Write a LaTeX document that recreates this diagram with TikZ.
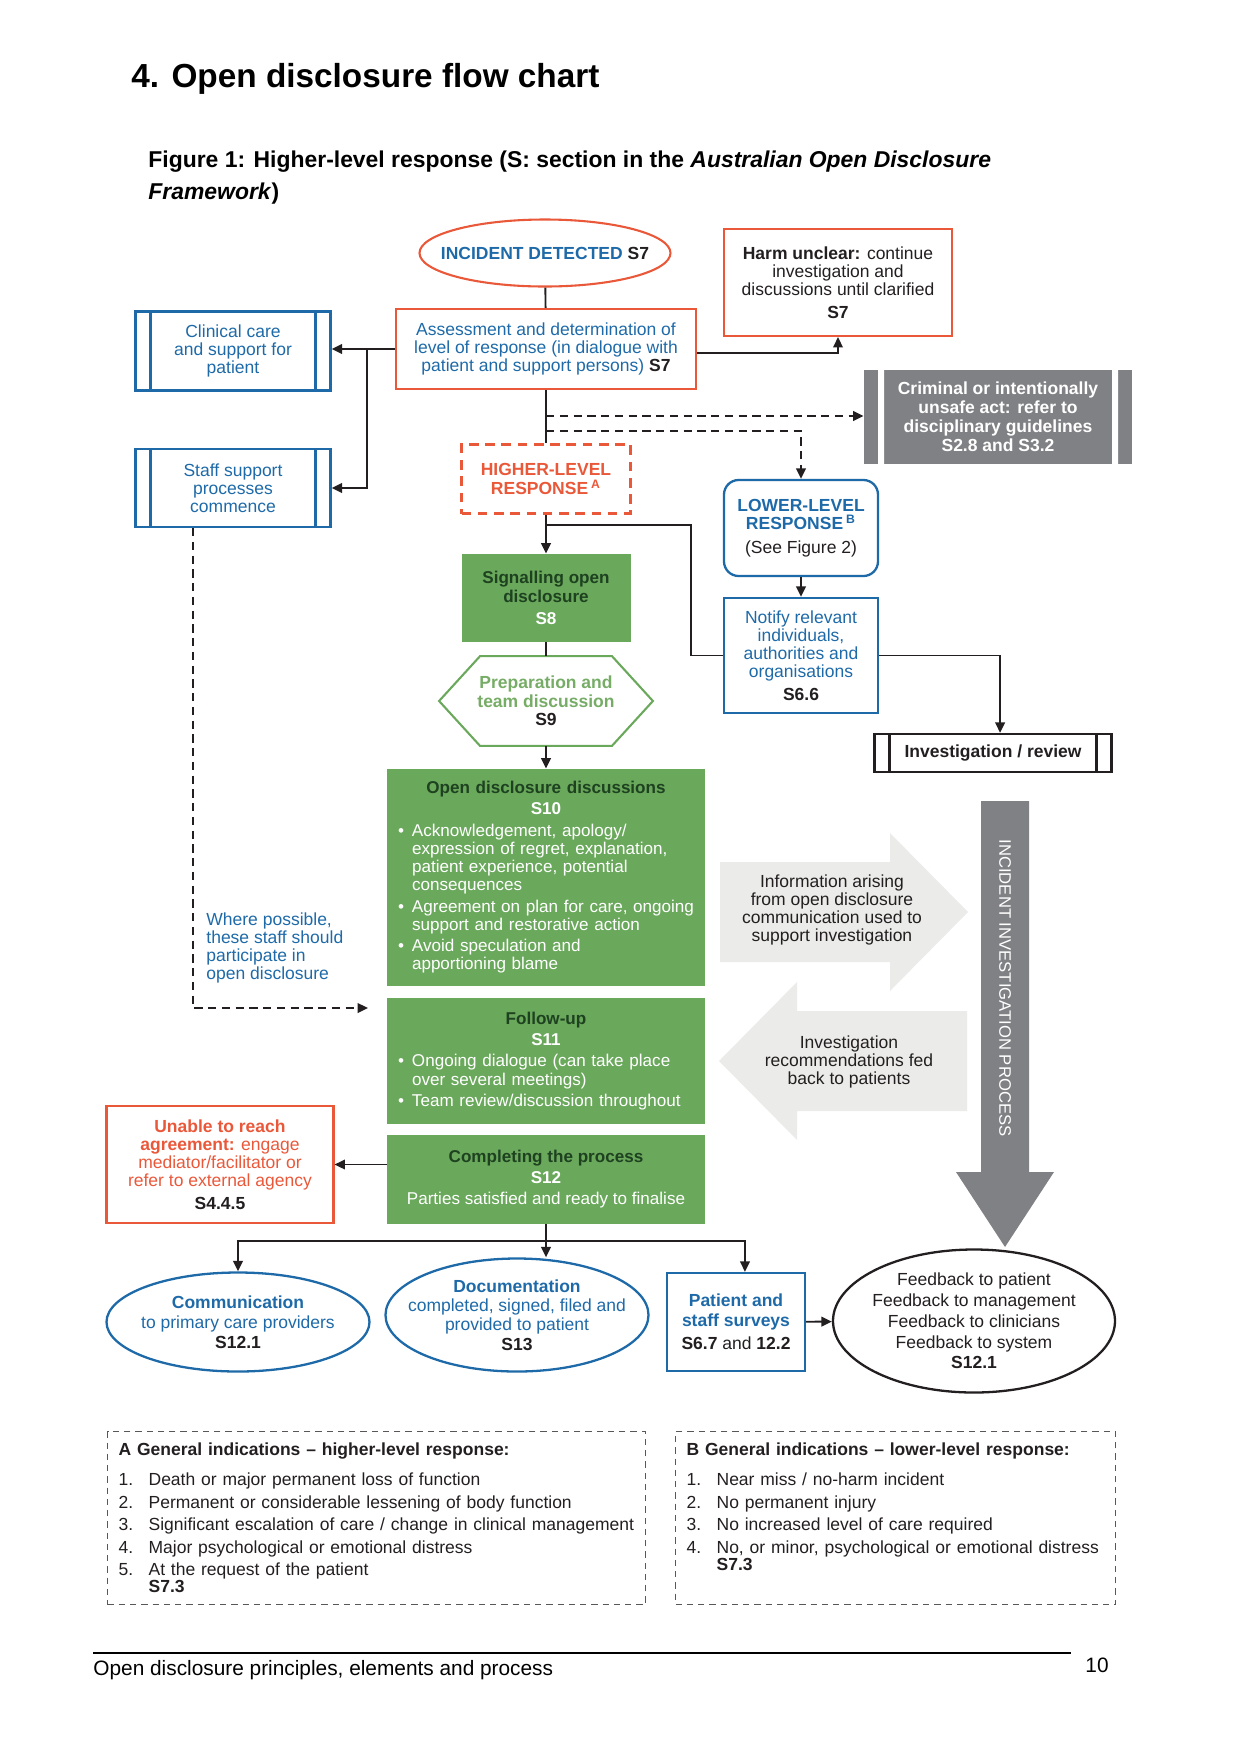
\documentclass[tikz,border=0pt]{standalone}
\usepackage{fontspec}
\setmainfont{Liberation Sans}
\usetikzlibrary{arrows.meta, shapes.geometric, positioning, calc}
\definecolor{OdBlue}{RGB}{30,106,168}
\definecolor{OdOrange}{RGB}{234,88,58}
\definecolor{OdGreen}{RGB}{106,168,92}
\definecolor{OdGreenDark}{RGB}{30,66,32}
\definecolor{OdGreenText}{RGB}{118,172,102}
\definecolor{OdGrey}{RGB}{128,129,132}
\definecolor{OdGreyLight}{RGB}{235,235,233}
\definecolor{OdInk}{RGB}{35,31,32}
\newlength{\pxl}
\setlength{\pxl}{0.48pt}
\newcommand{\odbul}[1]{\par\vspace{1.6pt}\noindent\hangindent=14\pxl\hangafter=1\makebox[14\pxl][l]{\textbullet}#1\par}
\newcommand{\oditem}[2]{\par\noindent\hangindent=30\pxl\hangafter=1\makebox[30\pxl][l]{#1}#2}
\newcommand{\odsec}[1]{\par\vspace{-2.6pt}\noindent\hspace*{30\pxl}\textbf{#1}}

\begin{document}
\begin{tikzpicture}[x=0.48pt,y=-0.48pt,
        nd/.style={align=center,inner sep=0pt,font=\fontsize{8.4}{8.7}\selectfont,text=OdInk},
        blbox/.style={nd,draw=OdBlue,line width=1.1pt,text=OdBlue},
        orbox/.style={nd,draw=OdOrange,line width=1pt},
        gnbox/.style={nd,fill=OdGreen,text=white,font=\fontsize{8.2}{8.7}\selectfont},
        oval/.style={ellipse,inner xsep=-30pt,inner ysep=-12pt},
        proc/.style={nd,draw=#1,line width=1.1pt,
                     path picture={\draw[#1,line width=1.1pt]
                       ([xshift=15*\pxl]path picture bounding box.north west) -- ([xshift=15*\pxl]path picture bounding box.south west)
                       ([xshift=-15*\pxl]path picture bounding box.north east) -- ([xshift=-15*\pxl]path picture bounding box.south east);}},
        proc/.default=OdBlue,
        notebox/.style={nd,draw=OdInk!75,line width=0.6pt,dash pattern=on 3pt off 2.4pt,
                        anchor=north west,align=left,inner xsep=11*\pxl,minimum height=173*\pxl,
                        font=\fontsize{8.4}{10.8}\selectfont},
        arr/.style={-{Triangle[length=5pt,width=4.6pt]},line width=0.9pt,OdInk},
        ln/.style={line width=0.9pt,OdInk},
        darr/.style={arr,dash pattern=on 4pt off 2.6pt}
      ]
        \useasboundingbox (0,0) rectangle (1241,1754);
        \node[anchor=base west,inner sep=0pt,font=\fontsize{16}{19}\selectfont\bfseries] (ttl) at (131,87) {4. Open disclosure flow chart};
        \node[anchor=north west,align=left,inner sep=0pt,font=\fontsize{11}{15.4}\selectfont\bfseries] (cap) at (148,150)
          {Figure 1: Higher-level response (S: section in the \textit{Australian Open Disclosure}\\\textit{Framework})};
        % Assessment
        \node[orbox,oval,minimum width=251*\pxl,minimum height=67*\pxl,font=\fontsize{8.4}{8.7}\selectfont\bfseries] (inc) at (545,253)
          {\textcolor{OdBlue}{INCIDENT DETECTED} S7};
        \node[orbox,minimum width=300*\pxl,minimum height=80*\pxl,text=OdBlue] (assess) at (546,349)
          {Assessment and determination of\\level of response (in dialogue with\\patient and support persons) \textcolor{OdInk}{\textbf{S7}}};
        \node[orbox,minimum width=228*\pxl,minimum height=107*\pxl] (harm) at (838,282.5)
          {\textbf{Harm unclear:} continue\\investigation and\\discussions until clarified\\[2pt]\textbf{S7}};
        \node[proc,text=OdBlue,minimum width=195*\pxl,minimum height=79*\pxl] (clin) at (233,351) {Clinical care\\and support for\\patient};
        \node[proc,text=OdBlue,minimum width=195*\pxl,minimum height=78*\pxl] (staff) at (233,488) {Staff support\\processes\\commence};
        \node[nd,fill=OdGrey,text=white,font=\fontsize{8.4}{9.1}\selectfont\bfseries,minimum width=268*\pxl,minimum height=94*\pxl,
              path picture={\fill[white]
                ([xshift=14*\pxl]path picture bounding box.south west) rectangle ([xshift=20*\pxl]path picture bounding box.north west)
                ([xshift=-20*\pxl]path picture bounding box.south east) rectangle ([xshift=-14*\pxl]path picture bounding box.north east);}] (crim) at (998,417)
          {Criminal or intentionally\\unsafe act: refer to\\disciplinary guidelines\\S2.8 and S3.2};
        \node[orbox,line width=1.1pt,dash pattern=on 4.6pt off 3.2pt,minimum width=169*\pxl,minimum height=69*\pxl,
              text=OdOrange,font=\fontsize{8.4}{8.7}\selectfont\bfseries] (higher) at (546,479) {HIGHER-LEVEL\\RESPONSE\,\textsuperscript{A}};
        \node[blbox,rounded corners=7pt,minimum width=154*\pxl,minimum height=96*\pxl] (lower) at (801,528)
          {\textbf{LOWER-LEVEL}\\\textbf{RESPONSE\,\textsuperscript{B}}\\[3pt]\textcolor{OdInk}{(See Figure 2)}};
        % Higher-level path
        \node[gnbox,minimum width=169*\pxl,minimum height=88*\pxl] (sig) at (546,598)
          {\textcolor{OdGreenDark}{\textbf{Signalling open}}\\\textcolor{OdGreenDark}{\textbf{disclosure}}\\[2pt]\textbf{S8}};
        \node[blbox,minimum width=154*\pxl,minimum height=115*\pxl] (notify) at (801,655.5)
          {Notify relevant\\individuals,\\authorities and\\organisations\\[2pt]\textcolor{OdInk}{\textbf{S6.6}}};
        \node[nd,minimum width=213*\pxl,minimum height=89*\pxl,text=OdGreenText,font=\fontsize{8.4}{8.9}\selectfont\bfseries] (prep) at (546,701)
          {Preparation and\\team discussion\\\textcolor{OdInk}{S9}};
        \draw[OdGreen,line width=1pt] (prep.west) -- ([xshift=41*\pxl]prep.north west) -- ([xshift=-41*\pxl]prep.north east)
          -- (prep.east) -- ([xshift=-41*\pxl]prep.south east) -- ([xshift=41*\pxl]prep.south west) -- cycle;
        \node[proc=OdInk,minimum width=237*\pxl,minimum height=38*\pxl,font=\fontsize{8.4}{8.7}\selectfont\bfseries] (invrev) at (993,753)
          {Investigation / review};
        \node[gnbox,minimum width=318*\pxl,minimum height=217*\pxl,text width=296*\pxl,align=left] (odd) at (546,877.5)
          {{\centering\textcolor{OdGreenDark}{\textbf{Open disclosure discussions}}\\[1.4pt]\textbf{S10}\par}
           \odbul{\mbox{Acknowledgement, apology/}\newline \mbox{expression of regret, explanation,}\newline \mbox{patient experience, potential}\newline consequences}
           \odbul{\mbox{Agreement on plan for care, ongoing}\newline \mbox{support and restorative action}}
           \odbul{\mbox{Avoid speculation and}\newline \mbox{apportioning blame}}};
        \node[gnbox,minimum width=318*\pxl,minimum height=126*\pxl,text width=296*\pxl,align=left] (follow) at (546,1061)
          {{\centering\textcolor{OdGreenDark}{\textbf{Follow-up}}\\[1.4pt]\textbf{S11}\par}
           \odbul{\mbox{Ongoing dialogue (can take place}\newline \mbox{over several meetings)}}
           \odbul{\mbox{Team review/discussion throughout}}};
        \node[gnbox,minimum width=318*\pxl,minimum height=89*\pxl] (complete) at (546,1179.5)
          {\textcolor{OdGreenDark}{\textbf{Completing the process}}\\[1.4pt]\textbf{S12}\\[1.4pt]Parties satisfied and ready to finalise};
        \node[orbox,minimum width=227*\pxl,minimum height=117*\pxl,text=OdOrange] (unable) at (220,1164.5)
          {\textbf{Unable to reach}\\\textbf{agreement:} engage\\mediator/facilitator or\\refer to external agency\\[2pt]\textcolor{OdInk}{\textbf{S4.4.5}}};
        \node[nd,text=OdBlue,align=left,anchor=west] (where) at (206,948)
          {Where possible,\\these staff should\\participate in\\open disclosure};
        % Investigation process
        \fill[OdGreyLight] (720,862) -- (890,862) -- (890,833) -- (968,912) -- (890,991) -- (890,962) -- (720,962) -- cycle;
        \node[nd] (info) at (832,910) {Information arising\\from open disclosure\\communication used to\\support investigation};
        \fill[OdGreyLight] (967,1011) -- (797,1011) -- (797,982) -- (719,1061) -- (797,1140) -- (797,1111) -- (967,1111) -- cycle;
        \node[nd] (recs) at (849,1062) {Investigation\\recommendations fed\\back to patients};
        \fill[OdGrey] (981,801) -- (1029,801) -- (1029,1172) -- (1054,1172) -- (1005,1247) -- (956,1172) -- (981,1172) -- cycle;
        \node[nd,rotate=-90,text=white,font=\fontsize{8}{9}\selectfont] (invproc) at (1005,988) {INCIDENT INVESTIGATION PROCESS};
        % Completion
        \node[blbox,oval,minimum width=263*\pxl,minimum height=99*\pxl,font=\fontsize{8.4}{9.6}\selectfont] (comm) at (238,1322)
          {\textbf{Communication}\\to primary care providers\\\textcolor{OdInk}{\textbf{S12.1}}};
        \node[blbox,oval,minimum width=263*\pxl,minimum height=113*\pxl,font=\fontsize{8.4}{9.2}\selectfont] (docu) at (517,1315)
          {\textbf{Documentation}\\completed, signed, filed and\\provided to patient\\\textcolor{OdInk}{\textbf{S13}}};
        \node[blbox,minimum width=138*\pxl,minimum height=98*\pxl,font=\fontsize{8.4}{9.4}\selectfont] (surv) at (736,1322)
          {\textbf{Patient and}\\\textbf{staff surveys}\\[2pt]\textcolor{OdInk}{\textbf{S6.7} and \textbf{12.2}}};
        \node[nd,oval,draw=OdInk,line width=1.1pt,minimum width=282*\pxl,minimum height=143*\pxl,font=\fontsize{8.4}{10}\selectfont] (fb) at (974,1321)
          {Feedback to patient\\Feedback to management\\Feedback to clinicians\\Feedback to system\\\textbf{S12.1}};
        % Connectors
        \coordinate (jl) at (367,349);
        \coordinate (jd1) at (546,416);
        \coordinate (jd2) at (546,431);
        \coordinate (jh) at (546,525);
        \coordinate (wpend) at (368,1008);
        \coordinate (jb) at (546,1241);
        \draw[ln] (inc) -- (assess);
        \draw[arr] (assess.west) -- (assess.west -| clin.east);
        \draw[arr] (jl) |- (staff.east);
        \draw[arr] ([yshift=-2pt]assess.east) -| (harm.south);
        \draw[ln] (assess) -- (higher);
        \draw[darr] (jd1) -- (jd1 -| crim.west);
        \draw[darr] (jd2) -| (lower.north);
        \draw[arr] (higher) -- (sig);
        \draw[ln] (jh) -- ++(145,0) |- (notify.west);
        \draw[arr] (lower) -- (notify);
        \draw[arr] (notify.east) -| ([xshift=3.4pt]invrev.north);
        \draw[ln] (sig) -- (prep);
        \draw[arr] (prep) -- (odd);
        \draw[darr] ([xshift=-40*\pxl]staff.south) |- (wpend);
        \draw[arr] (complete.west |- unable.east) -- (unable.east);
        \draw[ln] (complete) -- (jb);
        \draw[arr] (jb) -| (comm.north);
        \draw[arr] (jb) -- (jb |- docu.north);
        \draw[arr] (jb) -| ([xshift=4.3pt]surv.north);
        \draw[arr] (surv) -- (fb);
        % General indications
        \node[notebox,text width=516*\pxl] (genA) at (107,1431)
          {\textbf{A General indications -- higher-level response:}\par\vspace{3.6pt}
           \oditem{1.}{Death or major permanent loss of function}
           \oditem{2.}{Permanent or considerable lessening of body function}
           \oditem{3.}{Significant escalation of care / change in clinical management}
           \oditem{4.}{Major psychological or emotional distress}
           \oditem{5.}{At the request of the patient}
           \odsec{S7.3}};
        \node[notebox,text width=418*\pxl] (genB) at (675,1431)
          {\textbf{B General indications -- lower-level response:}\par\vspace{3.6pt}
           \oditem{1.}{Near miss / no-harm incident}
           \oditem{2.}{No permanent injury}
           \oditem{3.}{No increased level of care required}
           \oditem{4.}{No, or minor, psychological or emotional distress}
           \odsec{S7.3}\par\vspace*{10.8pt}};
        \draw[line width=0.6pt] (93,1653) -- (1071,1653);
        \node[anchor=base west,inner sep=0pt,font=\fontsize{10}{12}\selectfont] (foot) at (93,1675) {Open disclosure principles, elements and process};
        \node[anchor=base east,inner sep=0pt,font=\fontsize{10}{12}\selectfont] (pageno) at (1109,1672) {10};
      \end{tikzpicture}
\end{document}
